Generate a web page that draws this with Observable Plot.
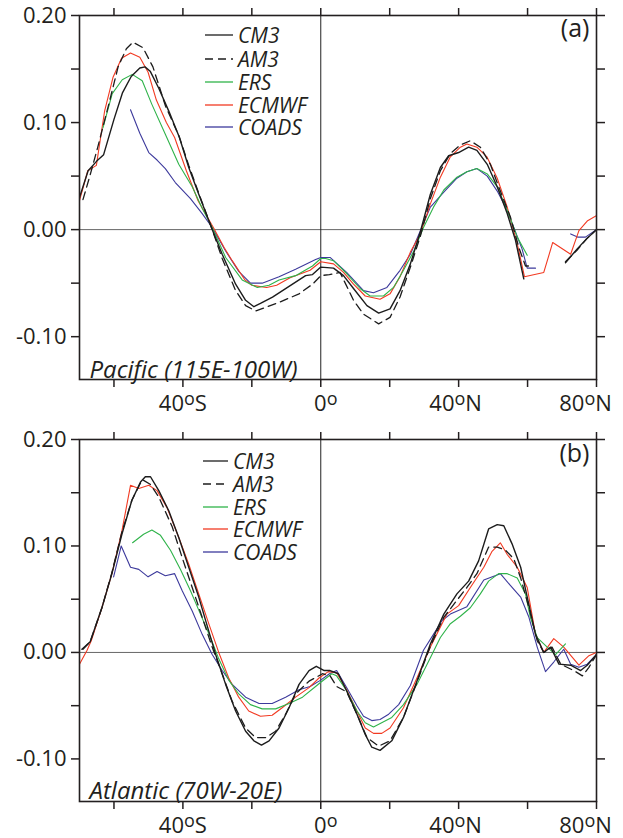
<!DOCTYPE html>
<html><head><meta charset="utf-8">
<script src="https://cdn.jsdelivr.net/npm/d3@7"></script>
<script src="https://cdn.jsdelivr.net/npm/@observablehq/plot@0.6"></script>
<style>
body{margin:0;background:#fff;}
#chart{width:623px;}
#chart svg{display:block;overflow:visible;}
</style></head><body><div id="chart"></div>
<script>
// ---------- series definitions ----------
const seriesNames = ["CM3", "AM3", "ERS", "ECMWF", "COADS"];
const seriesColors = ["#1c1c1c", "#1c1c1c", "#2fb34a", "#f23a22", "#3d3a9c"];
const seriesDash = [null, "8,5", null, null, null];
const seriesWidth = [1.4, 1.3, 1.1, 1.1, 1.1];

// ---------- axis ticks ----------
const latTicks = [-60, -40, -20, 0, 20, 40, 60, 80];
const latLabels = {"-40": "40oS", "0": "0o", "40": "40oN", "80": "80oN"};
const latLabelShift = {"40oS": 0, "0o": 5, "40oN": -3, "80oN": -11};
const valueTicks = [-0.10, -0.05, 0, 0.05, 0.10, 0.15, 0.20];
const valueLabels = [-0.10, 0, 0.10, 0.20];

// ---------- panel (a) Pacific: [latitude, value] ----------
const pacCM3 = [[-70,0.030],[-67.5,0.055],[-65,0.064],[-63,0.070],[-60,0.103],[-57.5,0.128],[-55,0.143],[-52.5,0.151],[-51,0.152],[-49.5,0.148],[-47,0.132],[-44,0.110],[-41,0.086],[-38.3,0.058],[-35.4,0.033],[-31.5,0.0],[-28.6,-0.023],[-24.7,-0.051],[-21.8,-0.066],[-19.4,-0.072],[-17.5,-0.069],[-14,-0.063],[-9.2,-0.053],[-4.4,-0.043],[-2.4,-0.042],[0,-0.035],[3.7,-0.036],[6.6,-0.043],[9.5,-0.055],[13.4,-0.071],[16.8,-0.078],[20.1,-0.074],[23,-0.057],[26,-0.032],[28.9,-0.002],[31.8,0.033],[34.7,0.058],[37.1,0.069],[40,0.072],[42.9,0.077],[45.3,0.074],[48.3,0.061],[51.2,0.040],[54.1,0.015],[56.5,-0.010],[58.9,-0.046],[65,NaN],[71,-0.031],[74.4,-0.018],[77.3,-0.008],[80,0.0]];
const pacAM3 = [[-69,0.028],[-67,0.050],[-64.7,0.077],[-61.2,0.121],[-58.8,0.152],[-56.4,0.169],[-54.5,0.175],[-51.6,0.170],[-48.7,0.152],[-45,0.115],[-41.2,0.088],[-38.3,0.060],[-35.4,0.034],[-31.5,0.0],[-28.6,-0.027],[-24.7,-0.057],[-21.8,-0.071],[-18.9,-0.076],[-12.1,-0.068],[-6.3,-0.060],[-2.4,-0.051],[0,-0.043],[2.5,-0.042],[5.6,-0.040],[9.5,-0.066],[12.4,-0.079],[16.8,-0.088],[20.1,-0.082],[23,-0.063],[26,-0.035],[28.9,-0.006],[31.8,0.029],[34.7,0.055],[37.6,0.071],[40.5,0.079],[43.4,0.083],[46.3,0.077],[49.2,0.061],[52.1,0.036],[55,0.012],[57.5,-0.017],[59.4,-0.034],[61.5,-0.034],[65,NaN],[71,-0.030],[74.4,-0.019],[77.3,-0.008],[80,0.0]];
const pacERS = [[-63.2,0.095],[-60.5,0.127],[-57.6,0.140],[-54.7,0.145],[-51.8,0.139],[-49,0.117],[-45.1,0.089],[-41.2,0.061],[-37.3,0.040],[-34.4,0.020],[-31.5,0.002],[-27.6,-0.026],[-22.8,-0.047],[-18.4,-0.054],[-15,-0.052],[-12.1,-0.047],[-7.3,-0.043],[-2.4,-0.034],[0,-0.027],[1.4,-0.027],[3.7,-0.029],[7.5,-0.041],[11.4,-0.055],[14.3,-0.062],[18.2,-0.062],[21.1,-0.054],[24,-0.038],[27,-0.020],[29.8,0.002],[32.7,0.021],[35.7,0.037],[39.5,0.049],[42.4,0.054],[45.3,0.057],[48.3,0.052],[51.2,0.040],[54.1,0.018],[57,-0.007],[59.9,-0.024]];
const pacECMWF = [[-70,0.027],[-67.6,0.055],[-65.1,0.060],[-62.7,0.111],[-60.3,0.142],[-57.8,0.160],[-55.2,0.165],[-52.5,0.161],[-50.1,0.147],[-47.7,0.121],[-44.8,0.100],[-42.4,0.086],[-39,0.055],[-35.6,0.027],[-31,0.001],[-28,-0.017],[-25.7,-0.029],[-22,-0.047],[-20,-0.052],[-15.7,-0.054],[-12.8,-0.052],[-8.9,-0.045],[-3.1,-0.038],[0,-0.030],[3.7,-0.032],[6.6,-0.040],[9.5,-0.051],[12.9,-0.062],[17.2,-0.065],[20.1,-0.060],[23,-0.044],[26,-0.021],[28.9,-0.004],[31.8,0.024],[34.7,0.049],[37.6,0.068],[40.5,0.077],[42.4,0.080],[45.3,0.077],[48.2,0.068],[51.2,0.048],[54.1,0.021],[57,-0.013],[59.1,-0.044],[64.7,-0.040],[67.3,-0.012],[72.5,-0.023],[74.9,-0.001],[77.3,0.008],[80,0.013]];
const pacCOADS = [[-55.2,0.112],[-52.5,0.090],[-49.9,0.072],[-47.5,0.065],[-45.1,0.057],[-42.2,0.044],[-37.8,0.029],[-34.4,0.015],[-31.5,0.002],[-27.6,-0.020],[-23.8,-0.039],[-20.4,-0.050],[-17,-0.050],[-12.1,-0.044],[-7.3,-0.037],[-1.5,-0.028],[0,-0.026],[2.7,-0.026],[7.5,-0.040],[12.4,-0.057],[15.3,-0.059],[19.2,-0.054],[23,-0.038],[26,-0.023],[28.9,-0.001],[31.8,0.021],[35.7,0.035],[39.5,0.048],[42.4,0.054],[45.3,0.057],[48.3,0.050],[51.2,0.036],[54.1,0.018],[56,0.002],[58.4,-0.018],[59.9,-0.036],[62.3,-0.036],[67,NaN],[72.5,-0.004],[74.5,-0.007],[76.8,-0.007],[80,0.0]];

// ---------- panel (b) Atlantic: [latitude, value] ----------
const atlCM3 = [[-69.3,0.003],[-66.9,0.010],[-63.5,0.042],[-60.6,0.074],[-57.7,0.111],[-54.8,0.143],[-52.3,0.160],[-50.9,0.165],[-49.4,0.165],[-47,0.152],[-44.1,0.133],[-41.2,0.108],[-38.3,0.080],[-35.4,0.052],[-32.5,0.020],[-30.5,-0.002],[-27.6,-0.030],[-24.7,-0.055],[-21.8,-0.074],[-19.4,-0.083],[-17.2,-0.087],[-15,-0.083],[-12.1,-0.071],[-9.2,-0.052],[-6.3,-0.030],[-3.4,-0.017],[-1.3,-0.013],[1,-0.017],[2.7,-0.017],[5.1,-0.020],[7.5,-0.036],[10.5,-0.058],[12.9,-0.077],[14.8,-0.089],[17.2,-0.092],[20.6,-0.083],[24,-0.061],[27.9,-0.027],[31.8,0.008],[35.7,0.036],[39.5,0.055],[42.9,0.067],[45.8,0.086],[48.7,0.116],[51.2,0.120],[53.1,0.119],[55.5,0.102],[58,0.080],[59.9,0.052],[62.3,0.017],[64.7,0.0],[66.7,0.005],[69.1,-0.011],[72.5,-0.012],[75.4,-0.017],[77.3,-0.012],[80,-0.002]];
const atlAM3 = [[-69,0.003],[-66.9,0.010],[-63.5,0.042],[-60.6,0.075],[-57.7,0.113],[-54.8,0.143],[-52.5,0.158],[-51.6,0.162],[-49.5,0.158],[-47,0.146],[-43.1,0.118],[-40.2,0.089],[-37.3,0.061],[-34.4,0.033],[-31.5,0.005],[-28.6,-0.020],[-25.7,-0.046],[-21.8,-0.071],[-18.9,-0.080],[-16,-0.080],[-13.1,-0.074],[-10.2,-0.058],[-7.3,-0.039],[-3.4,-0.027],[0.5,-0.020],[2.7,-0.022],[4.6,-0.032],[7.5,-0.037],[10.5,-0.058],[13.4,-0.080],[16.8,-0.088],[20.1,-0.083],[24,-0.061],[27.9,-0.028],[31.8,0.006],[35.7,0.033],[39.5,0.049],[42.4,0.061],[45.3,0.074],[48.7,0.099],[51.2,0.099],[53.6,0.096],[56,0.088],[58,0.070],[60.4,0.042],[62.8,0.011],[64.7,0.0],[67.1,0.005],[69.6,-0.011],[73.4,-0.017],[75.9,-0.022],[77.8,-0.014],[80,-0.002]];
const atlERS = [[-54.6,0.103],[-51.4,0.111],[-49,0.115],[-46.5,0.110],[-43.6,0.096],[-40.7,0.078],[-37.8,0.058],[-34.9,0.036],[-32,0.014],[-29.6,-0.006],[-26.7,-0.026],[-23.8,-0.039],[-20.4,-0.049],[-17,-0.053],[-13.1,-0.053],[-9.2,-0.048],[-5.3,-0.042],[-1.5,-0.032],[0,-0.028],[3.2,-0.020],[4.6,-0.022],[7.5,-0.036],[10.5,-0.055],[12.9,-0.066],[15.3,-0.070],[20.6,-0.061],[24,-0.049],[27.9,-0.030],[31.8,-0.005],[34.7,0.014],[37.6,0.027],[40.5,0.034],[43.4,0.042],[46.3,0.055],[48.7,0.067],[51.6,0.074],[54.1,0.074],[57,0.070],[59.4,0.055],[60.8,0.033],[62.8,0.014],[65.7,0.005],[68.1,-0.002],[71,0.008]];
const atlECMWF = [[-70,-0.011],[-67.8,0.002],[-66.6,0.011],[-63.5,0.042],[-60.6,0.074],[-57.7,0.114],[-55.2,0.157],[-52.8,0.154],[-49.9,0.157],[-47.5,0.152],[-44.6,0.136],[-41.2,0.108],[-38.3,0.083],[-35.4,0.055],[-32.5,0.027],[-29.6,0.0],[-26.7,-0.024],[-23.8,-0.042],[-20.9,-0.055],[-17.5,-0.060],[-14.1,-0.059],[-11.2,-0.052],[-7.3,-0.042],[-3.4,-0.033],[-0.5,-0.024],[2.2,-0.018],[4.6,-0.019],[7.5,-0.035],[10.5,-0.055],[12.9,-0.071],[15.3,-0.076],[17.7,-0.076],[20.1,-0.071],[24,-0.052],[27.9,-0.024],[31.8,0.005],[36.6,0.036],[40,0.044],[43.4,0.061],[47.3,0.080],[49.7,0.095],[52.1,0.103],[54.1,0.092],[57,0.080],[59.9,0.061],[62.3,0.017],[64.7,0.0],[67.6,0.013],[70.5,0.005],[74.9,-0.012],[77.8,-0.003],[80,0.0]];
const atlCOADS = [[-60.1,0.071],[-57.9,0.100],[-55.2,0.080],[-52.8,0.078],[-50.1,0.071],[-47.5,0.076],[-45.1,0.072],[-42.4,0.074],[-40.2,0.058],[-37.3,0.039],[-34.4,0.017],[-31.5,-0.002],[-28.6,-0.017],[-25.7,-0.030],[-21.8,-0.042],[-17.9,-0.048],[-14.1,-0.048],[-10.2,-0.042],[-6.3,-0.035],[-3.1,-0.032],[0,-0.026],[2.5,-0.020],[4.6,-0.017],[7.5,-0.033],[10.5,-0.050],[12.4,-0.060],[14.8,-0.064],[17.2,-0.063],[19.7,-0.058],[22.6,-0.049],[26,-0.031],[29.8,0.002],[32.7,0.017],[35.2,0.030],[37.6,0.036],[42.4,0.043],[47.3,0.068],[52.1,0.074],[55,0.063],[58,0.052],[60.4,0.033],[62.8,0.005],[65.2,-0.018],[67.6,-0.009],[70.5,0.003],[72.5,-0.011],[74.9,-0.014],[77.3,-0.011],[80,-0.002]];

const FONT = "'Open Sans', sans-serif";
const INK = "#231f20";

function panel(cfg) {
  const series = cfg.series;
  const svg = Plot.plot({
    width: 623, height: 419,
    marginLeft: 79, marginRight: 27, marginTop: cfg.marginTop, marginBottom: cfg.marginBottom,
    x: {domain: [-70, 80]},
    y: {domain: [-0.14, 0.20]},
    style: {fontFamily: FONT, fontSize: "22px", color: INK, background: "#fff"},
    marks: [
      Plot.ruleY([0], {stroke: "#666", strokeWidth: 1}),
      Plot.ruleX([0], {stroke: "#222", strokeWidth: 1}),
      ...[4, 3, 2, 1, 0].map(i => Plot.line(series[i], {
        x: d => d[0], y: d => d[1],
        stroke: seriesColors[i], strokeWidth: seriesWidth[i],
        strokeDasharray: seriesDash[i] ?? undefined, clip: true
      })),
      Plot.frame({stroke: INK, strokeWidth: 1.6}),
      Plot.axisY(valueTicks, {anchor: "left", tickSize: 8, tickPadding: 5, strokeWidth: 1.5, label: null,
        tickFormat: d => valueLabels.some(v => Math.abs(v - d) < 1e-9) ? d.toFixed(2) : ""}),
      Plot.axisY(valueTicks, {anchor: "right", tickSize: 8, strokeWidth: 1.5, label: null, tickFormat: () => ""}),
      Plot.axisX(latTicks, {anchor: "top", tickSize: 8, strokeWidth: 1.5, label: null, tickFormat: () => ""}),
      Plot.axisX(latTicks, {anchor: "bottom", tickSize: 8, tickPadding: cfg.xPad, strokeWidth: 1.5, label: null,
        tickFormat: d => latLabels[String(d)] ?? ""}),
      Plot.text([cfg.tag], {text: d => d, frameAnchor: "top-right", textAnchor: "end", lineAnchor: "top",
        dx: -7, dy: cfg.tagDy, fontSize: 25, fill: INK}),
      Plot.text([cfg.region], {text: d => d, frameAnchor: "bottom-left", textAnchor: "start", lineAnchor: "bottom",
        dx: 10, dy: cfg.regionDy, fontSize: 24, fontStyle: "italic", fill: INK})
    ]
  });

  // superscript "o" in latitude labels, with small horizontal nudges
  d3.select(svg).selectAll("text").each(function() {
    const t = this.textContent;
    const m = /^(\d+)o([SN]?)$/.exec(t);
    if (!m) return;
    const sel = d3.select(this);
    const shift = latLabelShift[t] ?? 0;
    sel.text(null);
    sel.append("tspan").attr("dx", shift).text(m[1]);
    sel.append("tspan").attr("dy", -6).attr("font-size", "18px").text("o");
    if (m[2]) sel.append("tspan").attr("dy", 6).text(m[2]);
  });

  // legend
  const lg = d3.select(svg).append("g").attr("font-family", FONT).attr("font-size", 21)
    .attr("font-style", "italic").attr("fill", INK).attr("text-anchor", "start");
  seriesNames.forEach((name, i) => {
    const yy = cfg.legendY[i];
    lg.append("line").attr("x1", cfg.legendX[0]).attr("x2", cfg.legendX[1]).attr("y1", yy).attr("y2", yy)
      .attr("stroke", seriesColors[i]).attr("stroke-width", 1.3)
      .attr("stroke-dasharray", seriesDash[i] ?? null);
    lg.append("text").attr("x", cfg.legendX[1] + 5).attr("y", yy + 7.5).text(name);
  });
  return svg;
}

const root = document.getElementById("chart");
root.appendChild(panel({
  series: [pacCM3, pacAM3, pacERS, pacECMWF, pacCOADS],
  marginTop: 15, marginBottom: 40, xPad: 8, tag: "(a)", tagDy: 4,
  region: "Pacific (115E-100W)", regionDy: -2,
  legendX: [205, 233], legendY: [35, 59, 82, 105, 127]
}));
root.appendChild(panel({
  series: [atlCM3, atlAM3, atlERS, atlECMWF, atlCOADS],
  marginTop: 20, marginBottom: 37, xPad: 8, tag: "(b)", tagDy: 5,
  region: "Atlantic (70W-20E)", regionDy: -3,
  legendX: [203, 228], legendY: [42, 65, 88, 110, 133]
}));
</script>
</body></html>
